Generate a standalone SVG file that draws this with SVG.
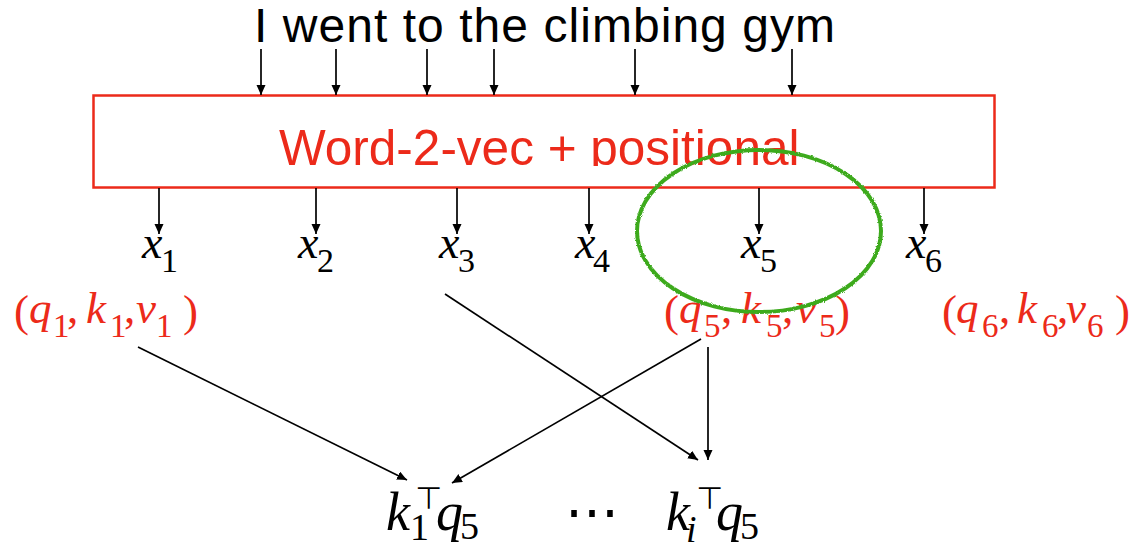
<svg xmlns="http://www.w3.org/2000/svg" width="1141" height="547" viewBox="0 0 1141 547">
<style>
.sans{font-family:"Liberation Sans",Arial,sans-serif}
.m{font-family:"Liberation Serif","Times New Roman",serif;font-style:italic}
.d{font-family:"Liberation Serif","Times New Roman",serif;font-style:normal}
.red{fill:#ec2a1a}
.blk{fill:#000}
.cn line{stroke:#000;stroke-width:1.7;marker-end:url(#ah)}
.xl{font-size:46px}
.xs{font-size:34px}
.tl{font-size:45px}
.ts{font-size:33px}
.bl{font-size:54px}
.bs{font-size:38px}
.tp{font-family:"DejaVu Sans",sans-serif;font-size:31px}
</style>
<defs>
<marker id="ah" markerUnits="userSpaceOnUse" markerWidth="10" markerHeight="10" refX="10" refY="4.5" orient="auto">
<path d="M0,0 L10,4.5 L0,9 z" fill="#000"/>
</marker>
<clipPath id="boxclip"><rect x="94" y="96" width="900" height="70"/></clipPath>
<filter id="rough" x="-5%" y="-5%" width="110%" height="110%">
<feTurbulence type="fractalNoise" baseFrequency="0.9" numOctaves="2" seed="3"/>
<feDisplacementMap in="SourceGraphic" scale="2.5" xChannelSelector="R" yChannelSelector="G"/>
</filter>
</defs>
<rect width="1141" height="547" fill="#fff"/>

<g id="sentence">
<text class="sans" x="254" y="42" font-size="48" textLength="581" fill="#000">I went to the climbing gym</text>
</g>

<g id="embedding">
<rect x="93.5" y="95.5" width="901" height="92" fill="none" stroke="#ec2a1a" stroke-width="2.5"/>
<text class="sans red" x="279" y="165" font-size="49.5" clip-path="url(#boxclip)">Word-2-vec + positional</text>
</g>

<g id="x-labels" class="m blk">
<text class="xl" x="142" y="258">x</text><text class="d xs" x="161" y="272">1</text>
<text class="xl" x="298" y="258">x</text><text class="d xs" x="317" y="272">2</text>
<text class="xl" x="439" y="258">x</text><text class="d xs" x="458" y="272">3</text>
<text class="xl" x="575" y="258">x</text><text class="d xs" x="593" y="272">4</text>
<text class="xl" x="741" y="258">x</text><text class="d xs" x="760" y="272">5</text>
<text class="xl" x="906" y="258">x</text><text class="d xs" x="925" y="272">6</text>
</g>

<g id="qkv1" class="red">
<text class="d tl" x="14" y="326">(</text>
<text class="m tl" x="29" y="323">q</text><text class="d ts" x="53" y="337">1</text>
<text class="d tl" x="67" y="323">,</text>
<text class="m tl" x="86" y="323">k</text><text class="d ts" x="110" y="337">1</text>
<text class="d tl" x="124" y="323">,</text>
<text class="m tl" x="136" y="323">v</text><text class="d ts" x="156" y="337">1</text>
<text class="d tl" x="183" y="326">)</text>
</g>

<g id="qkv5" class="red">
<text class="d tl" x="664" y="326">(</text>
<text class="m tl" x="679" y="323">q</text><text class="d ts" x="704" y="337">5</text>
<text class="d tl" x="721" y="323">,</text>
<text class="m tl" x="741" y="323">k</text><text class="d ts" x="766" y="337">5</text>
<text class="d tl" x="782" y="323">,</text>
<text class="m tl" x="796" y="323">v</text><text class="d ts" x="819" y="337">5</text>
<text class="d tl" x="835" y="326">)</text>
</g>

<g id="qkv6" class="red">
<text class="d tl" x="942" y="326">(</text>
<text class="m tl" x="956" y="323">q</text><text class="d ts" x="982" y="337">6</text>
<text class="d tl" x="999" y="323">,</text>
<text class="m tl" x="1017" y="323">k</text><text class="d ts" x="1042" y="337">6</text>
<text class="d tl" x="1057" y="323">,</text>
<text class="m tl" x="1066" y="323">v</text><text class="d ts" x="1087" y="337">6</text>
<text class="d tl" x="1115" y="326">)</text>
</g>

<g id="score1" class="blk">
<text class="m bl" x="386" y="530">k</text>
<text class="d bs" x="410" y="540">1</text>
<text class="tp" x="415" y="509">⊤</text>
<text class="m bl" x="436" y="530">q</text>
<text class="d bs" x="460" y="539">5</text>
</g>

<g id="dots" class="blk">
<text class="d" x="565" y="530" font-size="54">⋯</text>
</g>

<g id="scorei" class="blk">
<text class="m bl" x="666" y="530">k</text>
<text class="m bs" x="686" y="542">i</text>
<text class="tp" x="696" y="509">⊤</text>
<text class="m bl" x="716" y="530">q</text>
<text class="d bs" x="740" y="539">5</text>
</g>

<g id="connectors" class="cn">
<line x1="261" y1="49" x2="261" y2="95"/>
<line x1="336" y1="49" x2="336" y2="95"/>
<line x1="427" y1="49" x2="427" y2="95"/>
<line x1="494" y1="49" x2="494" y2="95"/>
<line x1="635" y1="49" x2="635" y2="95"/>
<line x1="792" y1="49" x2="792" y2="95"/>
<line x1="159" y1="188" x2="159" y2="234"/>
<line x1="316" y1="188" x2="316" y2="234"/>
<line x1="457" y1="188" x2="457" y2="234"/>
<line x1="589" y1="188" x2="589" y2="234"/>
<line x1="759" y1="188" x2="759" y2="234"/>
<line x1="924" y1="188" x2="924" y2="234"/>
<line x1="138" y1="347" x2="407" y2="480"/>
<line x1="701" y1="339" x2="452" y2="483"/>
<line x1="445" y1="294" x2="698" y2="460"/>
<line x1="708" y1="347" x2="708" y2="460"/>
</g>

<g id="highlight">
<ellipse cx="759" cy="231" rx="122" ry="81" fill="none" stroke="#3daa1f" stroke-width="4" filter="url(#rough)"/>
</g>
</svg>
